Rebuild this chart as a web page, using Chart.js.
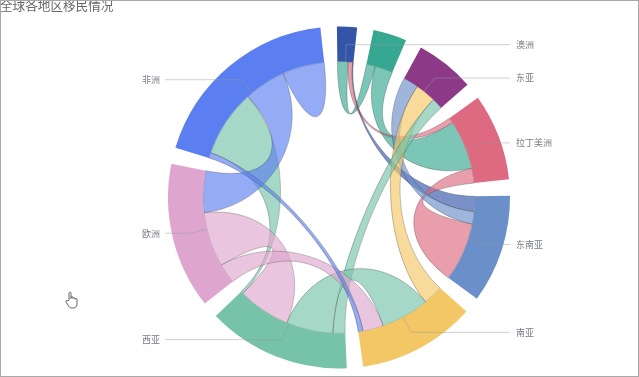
<!DOCTYPE html>
<html lang="zh">
<head>
<meta charset="UTF-8">
<title>全球各地区移民情况</title>
<script src="https://cdn.jsdelivr.net/npm/chart.js"></script>
<style>
    html, body { margin: 0; padding: 0; background: #fff; overflow: hidden; }
    #wrap { position: relative; width: 639px; height: 377px; }
    #myChart { display: block; outline: 1px solid #a8a8a8; outline-offset: -1px; }
    #cursor { position: absolute; left: 65px; top: 291px; }
</style>
</head>
<body>
<div id="wrap">
    <canvas id="myChart" width="639" height="377"></canvas>
    <svg id="cursor" width="14" height="18" viewBox="0 0 14 18">
        <path d="M4 9V2.2c0-1.5 2-1.5 2 0V7.5V6.5c0-1.2 2-1.2 2 0v1c0-1.1 2-1.1 2 0v.8c0-1 2-1 2 0V13c0 2.5-1.5 4-4 4H7c-2 0-3-1-4-3L1 11c-.6-1.3 1-2.2 2-1z" fill="#fff" stroke="#555" stroke-width="0.9"/>
    </svg>
</div>

<script>
// regions clockwise from the top
var categories = ['澳洲', '北美', '东亚', '拉丁美洲', '东南亚', '南亚', '西亚', '欧洲', '非洲'];
var hiddenLabels = ['北美'];
var sectorColors = ['#3355a8', '#36a892', '#8c3a88', '#dd6a80', '#6a8fc9', '#f4c766', '#76c3a9', '#dea6cf', '#5b7ff0'];

// for each region, who it is linked to (clockwise along its arc) and how wide that end is
var partners = [
    [1, 3, 4],
    [0, 3],
    [4, 5, 6],
    [0, 1, 4],
    [0, 2, 3],
    [2, 6, 7, 8],
    [2, 5, 7, 8],
    [5, 6, 8],
    [5, 6, 7, 8, 8]
];
var widths = [
    [4.6, 1.9, 0.3],
    [3.8, 7.6],
    [6.6, 8.7, 4.8],
    [2.3, 21, 6.3],
    [6.5, 5.3, 25],
    [8.5, 20.7, 8.8, 2],
    [5.2, 20, 22.5, 1],
    [8.5, 23.4, 17.8],
    [2.3, 28.7, 17.8, 9, 9]
];

// links, in drawing order, and the region whose colour each one takes
var linkA = [0, 1, 0, 0, 3, 2, 2, 2, 5, 6, 7, 6, 8, 7, 5];
var linkB = [1, 3, 3, 4, 4, 4, 5, 6, 6, 8, 8, 7, 8, 5, 8];
var linkOwner = [1, 1, 3, 0, 3, 4, 5, 6, 6, 6, 8, 7, 8, 7, 8];

var gapValue = 5.56;

function sum(list) {
    return list.reduce(function (a, b) { return a + b; }, 0);
}

var ringData = [];
var ringColors = [];
categories.forEach(function (name, i) {
    ringData.push(sum(widths[i]));
    ringColors.push(sectorColors[i]);
    ringData.push(gapValue);
    ringColors.push('rgba(0,0,0,0)');
});

// walk along each arc and collect the angle range of every link end
function collectEnds(chart) {
    var arcs = chart.getDatasetMeta(0).data;
    var ends = {};
    categories.forEach(function (name, i) {
        var arc = arcs[i * 2];
        var perUnit = (arc.endAngle - arc.startAngle) / ringData[i * 2];
        var a = arc.startAngle;
        partners[i].forEach(function (p, k) {
            var key = Math.min(i, p) + '-' + Math.max(i, p);
            var next = a + widths[i][k] * perUnit;
            (ends[key] = ends[key] || []).push([a, next]);
            a = next;
        });
    });
    return ends;
}

var ribbonPlugin = {
    id: 'ribbons',
    beforeDatasetsDraw: function (chart) {
        var ctx = chart.ctx;
        var first = chart.getDatasetMeta(0).data[0];
        var cx = first.x, cy = first.y, r = first.innerRadius;
        var ends = collectEnds(chart);

        function px(a, rad) { return cx + Math.cos(a) * rad; }
        function py(a, rad) { return cy + Math.sin(a) * rad; }
        function curve(from, to) {
            ctx.bezierCurveTo(px(from, r * 0.5), py(from, r * 0.5), px(to, r * 0.5), py(to, r * 0.5), px(to, r), py(to, r));
        }

        ctx.save();
        linkA.forEach(function (a, i) {
            var pair = ends[Math.min(a, linkB[i]) + '-' + Math.max(a, linkB[i])];
            var s = pair[0], t = pair[1];
            ctx.beginPath();
            if (a === linkB[i]) {
                // a region's flow to itself is one petal
                ctx.arc(cx, cy, r, s[0], t[1]);
            } else {
                ctx.arc(cx, cy, r, s[0], s[1]);
                curve(s[1], t[0]);
                ctx.arc(cx, cy, r, t[0], t[1]);
            }
            curve(t[1], s[0]);
            ctx.closePath();
            ctx.globalAlpha = 0.65;
            ctx.fillStyle = sectorColors[linkOwner[i]];
            ctx.fill();
            ctx.globalAlpha = 0.45;
            ctx.lineWidth = 0.7;
            ctx.strokeStyle = '#444';
            ctx.stroke();
        });
        ctx.restore();
    }
};

var labelPlugin = {
    id: 'sideLabels',
    afterDatasetsDraw: function (chart) {
        var ctx = chart.ctx;
        var arcs = chart.getDatasetMeta(0).data;
        ctx.save();
        ctx.font = '9px "Noto Sans CJK SC", sans-serif';
        ctx.textBaseline = 'middle';
        categories.forEach(function (name, i) {
            if (hiddenLabels.indexOf(name) >= 0) return;
            var arc = arcs[i * 2];
            var mid = (arc.startAngle + arc.endAngle) / 2;
            var right = Math.cos(mid) > 0;
            var elbowX = arc.x + Math.cos(mid) * 153;
            var elbowY = arc.y + Math.sin(mid) * 153;
            ctx.beginPath();
            ctx.moveTo(arc.x + Math.cos(mid) * arc.innerRadius, arc.y + Math.sin(mid) * arc.innerRadius);
            ctx.lineTo(elbowX, elbowY);
            ctx.lineTo(right ? 510 : 165, elbowY);
            ctx.strokeStyle = 'rgba(150,150,155,0.45)';
            ctx.lineWidth = 1;
            ctx.stroke();
            ctx.fillStyle = '#7a7c86';
            ctx.textAlign = right ? 'left' : 'right';
            ctx.fillText(name, right ? 516 : 160, elbowY);
        });
        // title sits hard against the top edge
        ctx.font = '12.6px "Noto Sans CJK SC", sans-serif';
        ctx.textAlign = 'left';
        ctx.fillStyle = '#666';
        ctx.fillText('全球各地区移民情况', 0, 5);
        ctx.restore();
    }
};

var ctxChord = document.getElementById('myChart').getContext('2d');
var myChart = new Chart(ctxChord, {
    type: 'doughnut',
    data: {
        labels: ringData.map(function (v, i) { return i % 2 ? '' : categories[i / 2]; }),
        datasets: [{
            data: ringData,
            backgroundColor: ringColors,
            borderWidth: 0,
            hoverOffset: 0
        }]
    },
    options: {
        responsive: false,
        animation: false,
        radius: 171,
        cutout: '79.5%',
        rotation: -0.7,
        layout: { padding: { left: 39, top: 18, right: 0, bottom: 0 } },
        plugins: { legend: { display: false }, tooltip: { enabled: false } }
    },
    plugins: [ribbonPlugin, labelPlugin]
});
</script>
</body>
</html>
